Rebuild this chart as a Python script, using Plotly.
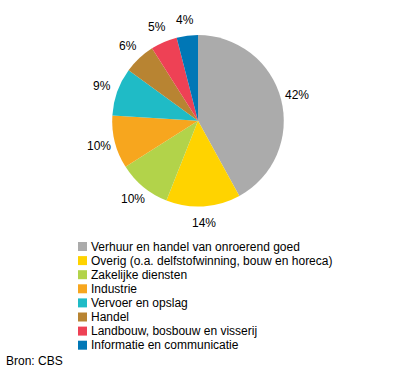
import math
import plotly.graph_objects as go

categories = [
    "Verhuur en handel van onroerend goed",
    "Overig (o.a. delfstofwinning, bouw en horeca)",
    "Zakelijke diensten",
    "Industrie",
    "Vervoer en opslag",
    "Handel",
    "Landbouw, bosbouw en visserij",
    "Informatie en communicatie",
]
values = [42, 14, 10, 10, 9, 6, 5, 4]
colors = ["#ABABAB", "#FFD300", "#B2D34A", "#F7A61E", "#1FBBC6", "#B88432", "#EE4155", "#0077B6"]
source = "Bron: CBS"

W, H = 396, 374
FONT = "Liberation Sans, Arial, sans-serif"

# pie geometry (pixels)
PIE_TOP, PIE_BOTTOM = 35, 206.6
CX, CY = W / 2, (PIE_TOP + PIE_BOTTOM) / 2
LABEL_R = 102

fig = go.Figure()
fig.add_trace(go.Pie(
    labels=categories,
    values=values,
    marker=dict(colors=colors, line=dict(width=0)),
    sort=False,
    direction="clockwise",
    rotation=0,
    textinfo="none",
    showlegend=False,
    hoverinfo="label+percent",
    domain=dict(x=[0, 1], y=[1 - PIE_BOTTOM / H, 1 - PIE_TOP / H]),
))

shapes = []
annotations = []

# percentage labels, placed along each slice's mid angle
total = sum(values)
cum = 0
for v in values:
    mid = (cum + v / 2) / total * 2 * math.pi
    cum += v
    px = CX + LABEL_R * math.sin(mid)
    py = CY - LABEL_R * math.cos(mid)
    annotations.append(dict(text=f"{round(v / total * 100)}%", xref="paper", yref="paper",
                            x=px / W, y=1 - py / H, xanchor="center", yanchor="middle",
                            showarrow=False,
                            font=dict(family=FONT, size=12, color="#000000")))

# legend
x0, y0, step = 78, 246.5, 14.1
for i, (cat, col) in enumerate(zip(categories, colors)):
    yc = y0 + i * step
    shapes.append(dict(type="rect", xref="paper", yref="paper",
                       x0=x0 / W, x1=(x0 + 9) / W,
                       y0=1 - (yc + 4.5) / H, y1=1 - (yc - 4.5) / H,
                       fillcolor=col, line=dict(width=0)))
    annotations.append(dict(text=cat, xref="paper", yref="paper",
                            x=(x0 + 11) / W, y=1 - yc / H,
                            xanchor="left", yanchor="middle", showarrow=False,
                            font=dict(family=FONT, size=12, color="#000000")))
annotations.append(dict(text=source, xref="paper", yref="paper",
                        x=4 / W, y=1 - 361 / H, xanchor="left", yanchor="middle",
                        showarrow=False, font=dict(family=FONT, size=12, color="#000000")))

fig.update_layout(
    width=W, height=H,
    margin=dict(l=0, r=0, t=0, b=0, autoexpand=False),
    paper_bgcolor="#FFFFFF", plot_bgcolor="#FFFFFF",
    shapes=shapes, annotations=annotations,
    font=dict(family=FONT, size=12),
)
fig.write_html(
    "out.html",
    config={"displayModeBar": False},
    post_script="document.body.style.margin='0';document.body.style.overflow='hidden';",
)
